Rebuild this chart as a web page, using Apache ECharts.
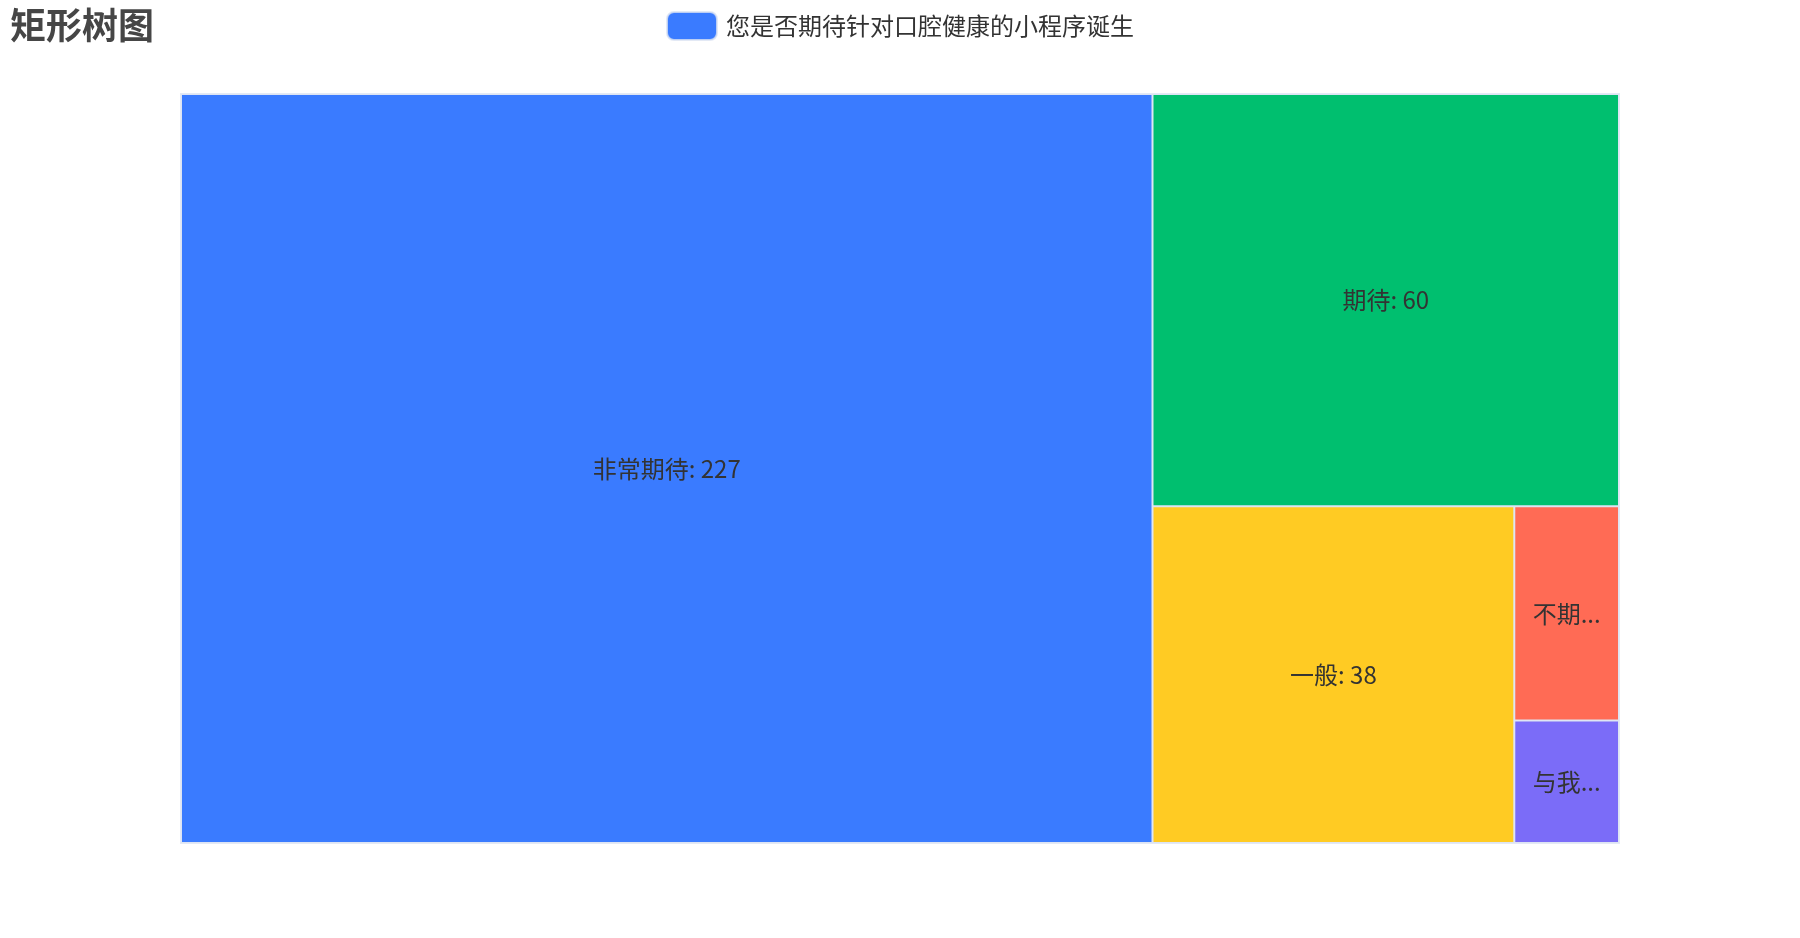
<!DOCTYPE html>
<html>
<head>
<meta charset="utf-8">
<script src="https://cdn.jsdelivr.net/npm/echarts@6/dist/echarts.min.js"></script>
<style>
html,body{margin:0;padding:0;background:#fff;}
#main{width:1800px;height:938px;}
</style>
</head>
<body>
<div id="main"></div>
<script>
const seriesName = '您是否期待针对口腔健康的小程序诞生';
const categories = ['非常期待', '期待', '一般', '不期待', '与我无关'];
const values = [227, 60, 38, 7, 4];
const palette = ['#3a7bff', '#00bf6f', '#ffcb23', '#ff6b55', '#7b6cf8'];

const chart = echarts.init(document.getElementById('main'));
const font = '"Noto Sans CJK SC", "Noto Sans", sans-serif';
chart.setOption({
  animation: false,
  textStyle: { fontFamily: font },
  title: {
    text: '矩形树图',
    left: 5,
    top: 2,
    textStyle: { fontSize: 36, fontWeight: 'bold', color: '#464646', fontFamily: font }
  },
  legend: {
    data: [seriesName],
    top: 6,
    left: 'center',
    itemWidth: 50,
    itemHeight: 28,
    itemGap: 10,
    textStyle: { fontSize: 24, color: '#333', fontFamily: font, padding: [0, 0, 0, 4] },
    itemStyle: { color: palette[0] }
  },
  series: [{
    type: 'treemap',
    name: seriesName,
    left: 180,
    right: 180,
    top: 93,
    bottom: 94,
    roam: false,
    nodeClick: false,
    breadcrumb: { show: false },
    itemStyle: { borderColor: 'rgba(220,228,242,0.8)', borderWidth: 1, gapWidth: 0 },
    label: {
      show: true,
      position: 'inside',
      formatter: '{b}: {c}',
      fontSize: 24,
      color: '#333',
      fontFamily: font,
      align: 'center',
      verticalAlign: 'middle'
    },
    upperLabel: { show: false },
    data: categories.map((n, i) => ({ name: n, value: values[i], itemStyle: { color: palette[i] } }))
  }]
});
</script>
</body>
</html>
